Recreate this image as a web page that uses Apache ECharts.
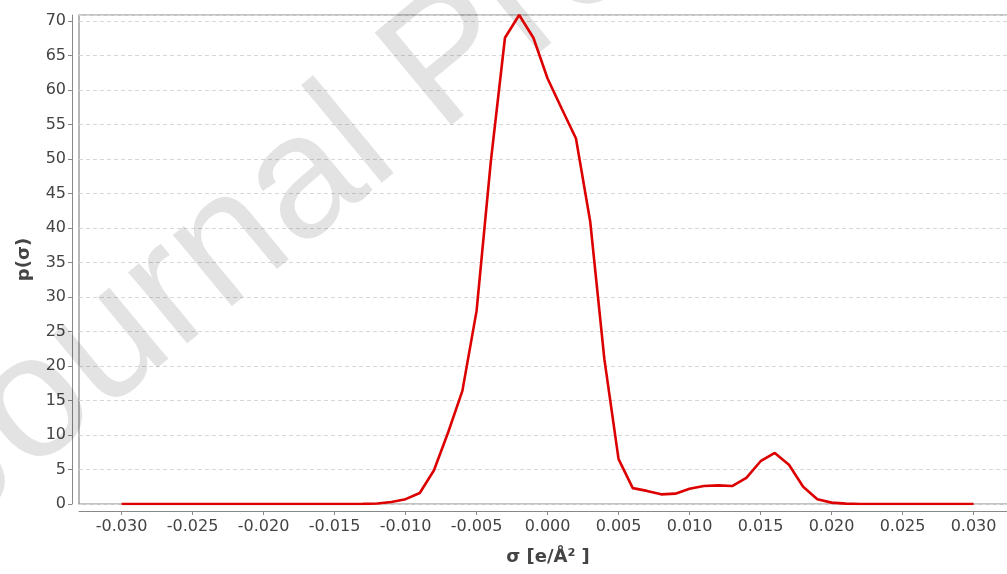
<!DOCTYPE html>
<html>
<head>
<meta charset="utf-8">
<script src="https://cdn.jsdelivr.net/npm/echarts@6/dist/echarts.min.js"></script>
<style>
  html, body { margin: 0; padding: 0; background: #fff; }
  #chart { width: 1007px; height: 574px; }
</style>
</head>
<body>
<div id="chart"></div>
<script>
// Sigma profile: screening charge density sigma vs probability p(sigma)
const sigma = [
  -0.030, -0.029, -0.028, -0.027, -0.026, -0.025, -0.024, -0.023, -0.022, -0.021,
  -0.020, -0.019, -0.018, -0.017, -0.016, -0.015, -0.014, -0.013, -0.012, -0.011,
  -0.010, -0.009, -0.008, -0.007, -0.006, -0.005, -0.004, -0.003, -0.002, -0.001,
   0.000,  0.001,  0.002,  0.003,  0.004,  0.005,  0.006,  0.007,  0.008,  0.009,
   0.010,  0.011,  0.012,  0.013,  0.014,  0.015,  0.016,  0.017,  0.018,  0.019,
   0.020,  0.021,  0.022,  0.023,  0.024,  0.025,  0.026,  0.027,  0.028,  0.029,
   0.030
];
const pSigma = [
  0, 0, 0, 0, 0, 0, 0, 0, 0, 0,
  0, 0, 0, 0, 0, 0, 0, 0.02, 0.08, 0.3,
  0.7, 1.6, 4.9, 10.4, 16.4, 28.0, 49.6, 67.6, 70.9, 67.6,
  61.7, 57.3, 53.0, 41.0, 21.0, 6.5, 2.3, 1.9, 1.4, 1.5,
  2.2, 2.6, 2.7, 2.6, 3.8, 6.2, 7.4, 5.7, 2.5, 0.7,
  0.2, 0.05, 0, 0, 0, 0, 0, 0, 0, 0,
  0
];
const xTicks = [-0.030, -0.025, -0.020, -0.015, -0.010, -0.005, 0.000, 0.005, 0.010, 0.015, 0.020, 0.025, 0.030];

const chart = echarts.init(document.getElementById('chart'), null, { renderer: 'canvas' });
const labelFont = { fontFamily: 'DejaVu Sans', fontSize: 16, color: '#444' };

chart.setOption({
  animation: false,
  backgroundColor: '#fff',
  graphic: [{
    type: 'text',
    x: -15,
    y: 561,
    rotation: 0.69,
    z: 1,
    silent: true,
    style: {
      text: 'Journal Pre-proof',
      font: '175px "Liberation Sans"',
      fill: 'rgba(0,0,0,0.11)',
      textVerticalAlign: 'bottom'
    }
  }],
  grid: {
    left: 79, top: 15, bottom: 70, right: -10,
    show: true, borderColor: '#888', borderWidth: 1.2,
    outerBoundsMode: 'none',
    containLabel: false
  },
  xAxis: {
    type: 'value',
    min: -0.033, max: 0.03306,
    offset: 7,
    name: 'σ [e/Å² ]',
    nameLocation: 'middle',
    nameGap: 37,
    nameTextStyle: { fontFamily: 'DejaVu Sans', fontSize: 18, fontWeight: 'bold', color: '#444' },
    axisLine: { show: true, onZero: false, lineStyle: { color: '#888', width: 1 } },
    axisTick: { show: true, length: 4, lineStyle: { color: '#888' }, customValues: xTicks },
    axisLabel: Object.assign({ margin: 8, customValues: xTicks, formatter: v => v.toFixed(3) }, labelFont),
    splitLine: { show: false }
  },
  yAxis: {
    type: 'value',
    min: 0, max: 70.9,
    interval: 5,
    offset: 7,
    name: 'p(σ)',
    nameLocation: 'middle',
    nameGap: 39,
    nameTextStyle: { fontFamily: 'DejaVu Sans', fontSize: 18, fontWeight: 'bold', color: '#444' },
    axisLine: { show: true, onZero: false, lineStyle: { color: '#888', width: 1 } },
    axisTick: { show: true, length: 4, lineStyle: { color: '#888' } },
    axisLabel: Object.assign({ margin: 6, showMaxLabel: false }, labelFont),
    splitLine: { show: true, lineStyle: { color: '#d8d8d8', type: [4, 3], width: 1 } }
  },
  series: [{
    type: 'line',
    data: sigma.map((s, i) => [s, pSigma[i]]),
    showSymbol: false,
    z: 3,
    lineStyle: { color: '#dd0000', width: 2.6 },
    itemStyle: { color: '#dd0000' }
  }]
});
</script>
</body>
</html>
